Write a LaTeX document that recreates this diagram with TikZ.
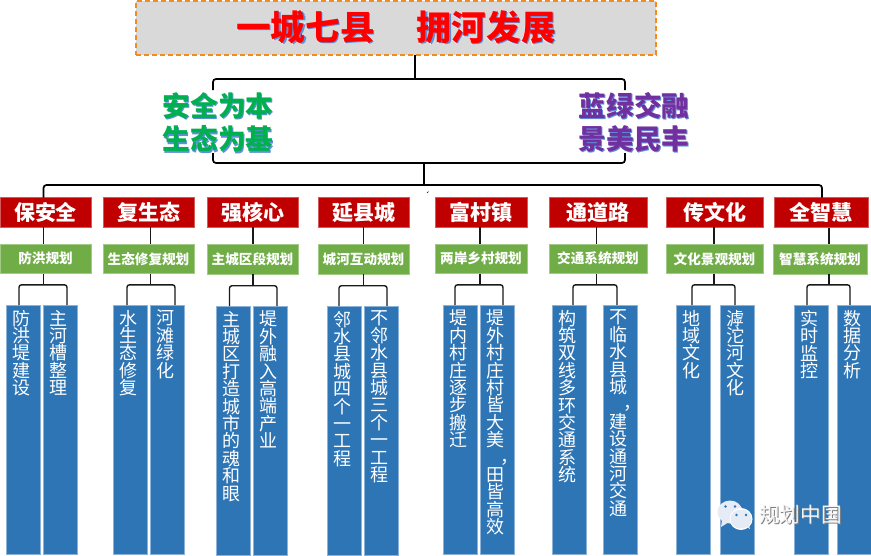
\documentclass[tikz,border=0pt]{standalone}
\usepackage{fontspec}
\setmainfont{Noto Sans CJK SC}
\newfontfamily\halofam[BoldFeatures={FakeBold=3}]{Noto Sans CJK SC}
\usetikzlibrary{calc}
\definecolor{cred}{HTML}{C00000}
\definecolor{cgreen}{HTML}{70AD47}
\definecolor{cblue}{HTML}{2E75B6}
\definecolor{corange}{HTML}{F58A1F}
\definecolor{cgray}{HTML}{D9D9D9}
\definecolor{ctitle}{HTML}{FF0000}
\definecolor{cshadow}{HTML}{5F8FD8}
\definecolor{csafe}{HTML}{00B050}
\definecolor{cpurple}{HTML}{7030A0}
\definecolor{cicon}{HTML}{E6ECF5}
\newcommand\fx[3]{\leavevmode\rlap{\halofam\bfseries\color{white}#3}\rlap{\raisebox{-1.2pt}{\hspace{1.2pt}\bfseries\color{#2}#3}}{\bfseries\color{#1}#3}}
\newcommand\shad[1]{\leavevmode\rlap{\raisebox{-1.1pt}{\hspace{1.1pt}\color{gray}#1}}{\color{white!96!black}#1}}
\newcommand\vstack[1]{\parbox[c][248pt][t]{34pt}{\lineskiplimit=-20pt\vspace*{4.5pt}\centering\rightskip=4pt plus 1fil #1}}
\newcommand\vcomma{\hspace*{20pt}\smash{\raisebox{1pt}{，}}}
\tikzset{
  boxbase/.style={rectangle,inner sep=0pt,outer sep=0pt,anchor=center,text=white},
  redbox/.style={boxbase,fill=cred,draw=cred!65!white,line width=.6pt,font=\fontsize{21}{22}\selectfont\bfseries},
  greenbox/.style={boxbase,fill=cgreen,draw=cgreen!65!white,line width=.6pt,font=\fontsize{13.6}{15}\selectfont\bfseries},
  bluebox/.style={boxbase,fill=cblue,draw=cblue!55!white,line width=.6pt,font=\fontsize{18}{17.4}\selectfont},
  titlebox/.style={rectangle,fill=cgray,draw=corange,line width=1.5pt,dash pattern=on 5pt off 3pt,inner sep=0pt,outer sep=0pt,font=\fontsize{34.7}{38}\selectfont},
  slogan/.style={inner sep=0pt,outer sep=0pt,align=center,font=\fontsize{27.7}{33.5}\selectfont},
  link/.style={draw=black!90,line width=1.4pt,rounded corners=2.5pt},
  toplink/.style={draw=black,line width=1.7pt,rounded corners=3pt},
  mark text/.style={inner sep=0pt,outer sep=0pt,font=\fontsize{20.7}{22}\selectfont}
}
% name, x0, x1, y0, y1, style, text
\newcommand\bx[7]{\node[#6,minimum width={(#3-(#2))*1pt},minimum height={(#5-(#4))*1pt}] (#1) at ({(#2+#3)/2},{(#4+#5)/2}) {#7};}
\newcommand\vb[6]{\bx{#1}{#2}{#3}{#4}{#5}{bluebox}{\vstack{#6}}}
% group, trunk x, left drop x, right drop x, bracket y
\newcommand\wire[5]{%
  \coordinate (c#1) at (#2,#5);
  \coordinate (pa#1) at (#3,0);
  \coordinate (pb#1) at (#4,0);
  \draw[link,rounded corners=0pt] (r#1.south -| c#1) -- (g#1.north -| c#1);
  \draw[link,rounded corners=0pt] (g#1.south -| c#1) -- (c#1);
  \draw[link] (b#1a.north -| pa#1) |- (c#1) -| (b#1b.north -| pb#1);
}
\begin{document}
\begin{tikzpicture}[x=1pt,y=-1pt]
\useasboundingbox (0,0) rectangle (871,555);
\fill[white] (0,0) rectangle (871,555);

% title
\node[titlebox,minimum width=520pt,minimum height=54pt] (title) at (396,28) {\raisebox{-4pt}{\fx{ctitle}{cshadow}{一城七县\hspace{42pt}拥河发展}}};

% slogans
\node[slogan] (safe) at (218,123) {\fx{csafe}{cshadow}{安全为本}\\\fx{csafe}{cshadow}{生态为基}};
\node[slogan] (green) at (634,123) {\fx{cpurple}{cshadow}{蓝绿交融}\\\fx{cpurple}{cshadow}{景美民丰}};

% red boxes
\bx{r1}{0}{91}{197.5}{227}{redbox}{保安全}
\bx{r2}{103}{194}{197.5}{227}{redbox}{复生态}
\bx{r3}{207}{298}{197.5}{227}{redbox}{强核心}
\bx{r4}{318}{409}{197.5}{227}{redbox}{延县城}
\bx{r5}{435}{527}{197.5}{227}{redbox}{富村镇}
\bx{r6}{549}{647}{197.5}{227}{redbox}{通道路}
\bx{r7}{666}{763}{197.5}{227}{redbox}{传文化}
\bx{r8}{774}{868}{197.5}{227.5}{redbox}{全智慧}

% green boxes
\bx{g1}{0}{91}{244}{273.5}{greenbox}{防洪规划}
\bx{g2}{103}{194}{244}{273.5}{greenbox}{生态修复规划}
\bx{g3}{207}{298}{244}{274}{greenbox}{主城区段规划}
\bx{g4}{318}{409}{244}{274}{greenbox}{城河互动规划}
\bx{g5}{435}{527}{244}{273.5}{greenbox}{两岸乡村规划}
\bx{g6}{549}{647}{244}{273.5}{greenbox}{交通系统规划}
\bx{g7}{666}{763}{244}{273.5}{greenbox}{文化景观规划}
\bx{g8}{773}{867}{244}{274}{greenbox}{智慧系统规划}

% blue boxes
\vb{b1a}{7}{40}{305}{554}{防\\洪\\堤\\建\\设}
\vb{b1b}{44}{77}{305}{554}{主\\河\\槽\\整\\理}
\vb{b2a}{113}{147}{305}{554}{水\\生\\态\\修\\复}
\vb{b2b}{150}{184}{305}{554}{河\\滩\\绿\\化}
\vb{b3a}{216}{250}{306}{555}{主\\城\\区\\打\\造\\城\\市\\的\\魂\\和\\眼}
\vb{b3b}{253}{287}{306}{555}{堤\\外\\融\\入\\高\\端\\产\\业}
\vb{b4a}{327}{361}{306}{555}{邻\\水\\县\\城\\四\\个\\一\\工\\程}
\vb{b4b}{364}{398}{306}{555}{不\\邻\\水\\县\\城\\三\\个\\一\\工\\程}
\vb{b5a}{443}{477}{305}{554}{堤\\内\\村\\庄\\逐\\步\\搬\\迁}
\vb{b5b}{480}{514}{305}{554}{堤\\外\\村\\庄\\村\\皆\\大\\美\\\vcomma\\田\\皆\\高\\效}
\vb{b6a}{552}{586}{305}{554}{构\\筑\\双\\线\\多\\环\\交\\通\\系\\统}
\vb{b6b}{603}{637}{305}{554}{不\\临\\水\\县\\城\\\vcomma\\建\\设\\通\\河\\交\\通}
\vb{b7a}{676}{710}{305}{554}{地\\域\\文\\化}
\vb{b7b}{720}{754}{305}{554}{滹\\沱\\河\\文\\化}
\vb{b8a}{794}{828}{305}{554}{实\\时\\监\\控}
\vb{b8b}{837}{871}{305}{554}{数\\据\\分\\析}

% upper connectors
\coordinate (hubA) at (415,79);
\coordinate (safeTop) at (213,90);
\coordinate (greenTop) at (625,90);
\draw[toplink,rounded corners=0pt] (title.south -| hubA) -- (hubA);
\draw[toplink] (safeTop) |- (hubA) -| (greenTop);
\coordinate (hubB) at (424,163);
\coordinate (safeBot) at (213,153);
\coordinate (greenBot) at (625,153);
\draw[toplink] (safeBot) |- (hubB) -| (greenBot);
\coordinate (hubC) at (424,185);
\draw[toplink,rounded corners=0pt] (hubB) -- (hubC);
\coordinate (endL) at (43.5,0);
\coordinate (endR) at (822,0);
\draw[toplink] (r1.north -| endL) |- (hubC) -| (r8.north -| endR);

% lower connectors
\wire{1}{43.5}{19}{67}{284.8}
\wire{2}{150.5}{127}{175}{284.8}
\wire{3}{253}{229.5}{277}{285.7}
\wire{4}{363.5}{339}{387}{285.7}
\wire{5}{480}{455}{503}{284.8}
\wire{6}{596.5}{573}{617}{284.8}
\wire{7}{714}{692}{735}{284.8}
\wire{8}{829}{807}{850}{284.8}

% small speck
\draw[black,line width=.5pt] (427,193) -- (428.5,191.5);

% watermark
\fill[cicon] (730,512) ellipse [x radius=12.5,y radius=11.5];
\fill[cicon] (722,520) -- (721,527) -- (729,522) -- cycle;
\fill[white] (741,519) ellipse [x radius=11.5,y radius=11];
\fill[cicon] (741,519) ellipse [x radius=10.5,y radius=9.5];
\fill[cicon] (745,526) -- (750,529) -- (748,523) -- cycle;
\foreach \p in {(725.5,506.5),(735,506.5),(736.5,515),(746,515)} \fill[cblue] \p circle (1.3);
\node[mark text,anchor=center] (wm) at (800.5,515.5) {\shad{规划中国}};
\end{tikzpicture}
\end{document}
